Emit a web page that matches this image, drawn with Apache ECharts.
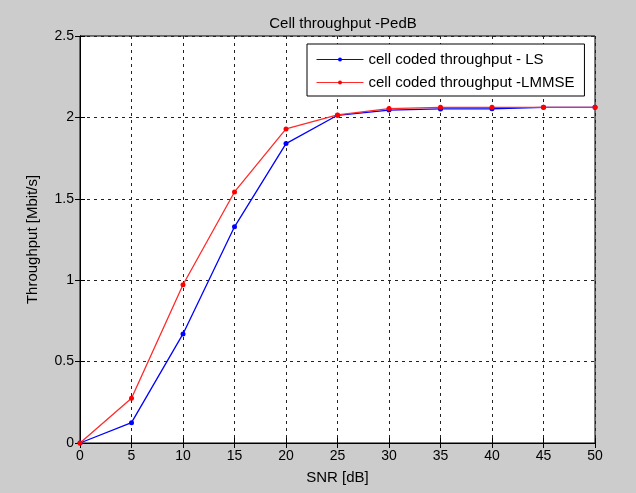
<!DOCTYPE html>
<html>
<head>
<meta charset="utf-8">
<title>Cell throughput -PedB</title>
<script src="https://cdn.jsdelivr.net/npm/echarts@6/dist/echarts.min.js"></script>
<style>
  html, body { margin: 0; padding: 0; background: #cccccc; }
  #chart { width: 636px; height: 493px; }
</style>
</head>
<body>
<div id="chart"></div>
<script>
// SNR points [dB]
var snr = [0, 5, 10, 15, 20, 25, 30, 35, 40, 45, 50];
// throughput [Mbit/s]
var lsValues = [0, 0.125, 0.67, 1.328, 1.839, 2.013, 2.045, 2.052, 2.053, 2.062, 2.062];
var lmmseValues = [0, 0.275, 0.972, 1.542, 1.929, 2.015, 2.054, 2.062, 2.062, 2.062, 2.062];
var seriesNames = ['cell coded throughput - LS', 'cell coded throughput -LMMSE'];

var font = 'Arial, "Liberation Sans", sans-serif';

function pairs(xs, ys) {
    return xs.map(function (x, i) { return [x, ys[i]]; });
}

var chart = echarts.init(document.getElementById('chart'));

var tickLabel = { color: '#000', fontFamily: font, fontSize: 14 };
var nameText = { color: '#000', fontFamily: font, fontSize: 15 };

var option = {
    backgroundColor: '#cccccc',
    animation: false,
    title: {
        text: 'Cell throughput -PedB',
        left: 338,
        top: 11,
        textAlign: 'center',
        textStyle: { color: '#000', fontFamily: font, fontSize: 15, fontWeight: 'normal' }
    },
    grid: {
        left: 80, right: 41, top: 36, bottom: 50,
        show: true,
        backgroundColor: '#ffffff',
        borderColor: '#000',
        borderWidth: 1
    },
    legend: {
        orient: 'vertical',
        left: 307,
        top: 44,
        backgroundColor: '#ffffff',
        borderColor: '#000',
        borderWidth: 1,
        padding: [7, 10, 5, 9],
        itemWidth: 47,
        itemHeight: 5,
        itemGap: 6,
        lineStyle: { width: 1 },
        textStyle: { color: '#000', fontFamily: font, fontSize: 15, lineHeight: 17 },
        data: seriesNames
    },
    xAxis: [{
        type: 'value',
        min: 0, max: 50, interval: 5,
        name: 'SNR [dB]',
        nameLocation: 'middle',
        nameGap: 27,
        nameTextStyle: nameText,
        axisLine: { lineStyle: { color: '#000' } },
        axisTick: { inside: true, length: 5, lineStyle: { color: '#000' } },
        axisLabel: Object.assign({ margin: 6 }, tickLabel),
        splitLine: { show: true, lineStyle: { color: '#222', type: [3, 4] } }
    }, {
        type: 'value', position: 'top',
        min: 0, max: 50, interval: 5,
        axisLine: { show: true, lineStyle: { color: '#000' } },
        axisTick: { inside: true, length: 5, lineStyle: { color: '#000' } },
        axisLabel: { show: false },
        splitLine: { show: false }
    }],
    yAxis: [{
        type: 'value',
        min: 0, max: 2.5, interval: 0.5,
        name: 'Throughput [Mbit/s]',
        nameLocation: 'middle',
        nameRotate: 90,
        nameGap: 40,
        nameTextStyle: nameText,
        axisLine: { show: true, lineStyle: { color: '#000' } },
        axisTick: { inside: true, length: 5, lineStyle: { color: '#000' } },
        axisLabel: Object.assign({ margin: 6 }, tickLabel),
        splitLine: { show: true, lineStyle: { color: '#222', type: [3, 4] } }
    }, {
        type: 'value', position: 'right',
        min: 0, max: 2.5, interval: 0.5,
        axisLine: { show: true, lineStyle: { color: '#000' } },
        axisTick: { inside: true, length: 5, lineStyle: { color: '#000' } },
        axisLabel: { show: false },
        splitLine: { show: false }
    }],
    series: [{
        name: seriesNames[0],
        type: 'line',
        data: pairs(snr, lsValues),
        symbol: 'circle',
        symbolSize: 5,
        color: '#0000ff',
        lineStyle: { width: 1.3, color: '#0000ff' },
        itemStyle: { color: '#0000ff' },
        z: 2
    }, {
        name: seriesNames[1],
        type: 'line',
        data: pairs(snr, lmmseValues),
        symbol: 'circle',
        symbolSize: 5,
        color: '#ff0000',
        lineStyle: { width: 1.3, color: '#ff2a2a' },
        itemStyle: { color: '#ff0000' },
        z: 3
    }]
};

chart.setOption(option);
</script>
</body>
</html>
